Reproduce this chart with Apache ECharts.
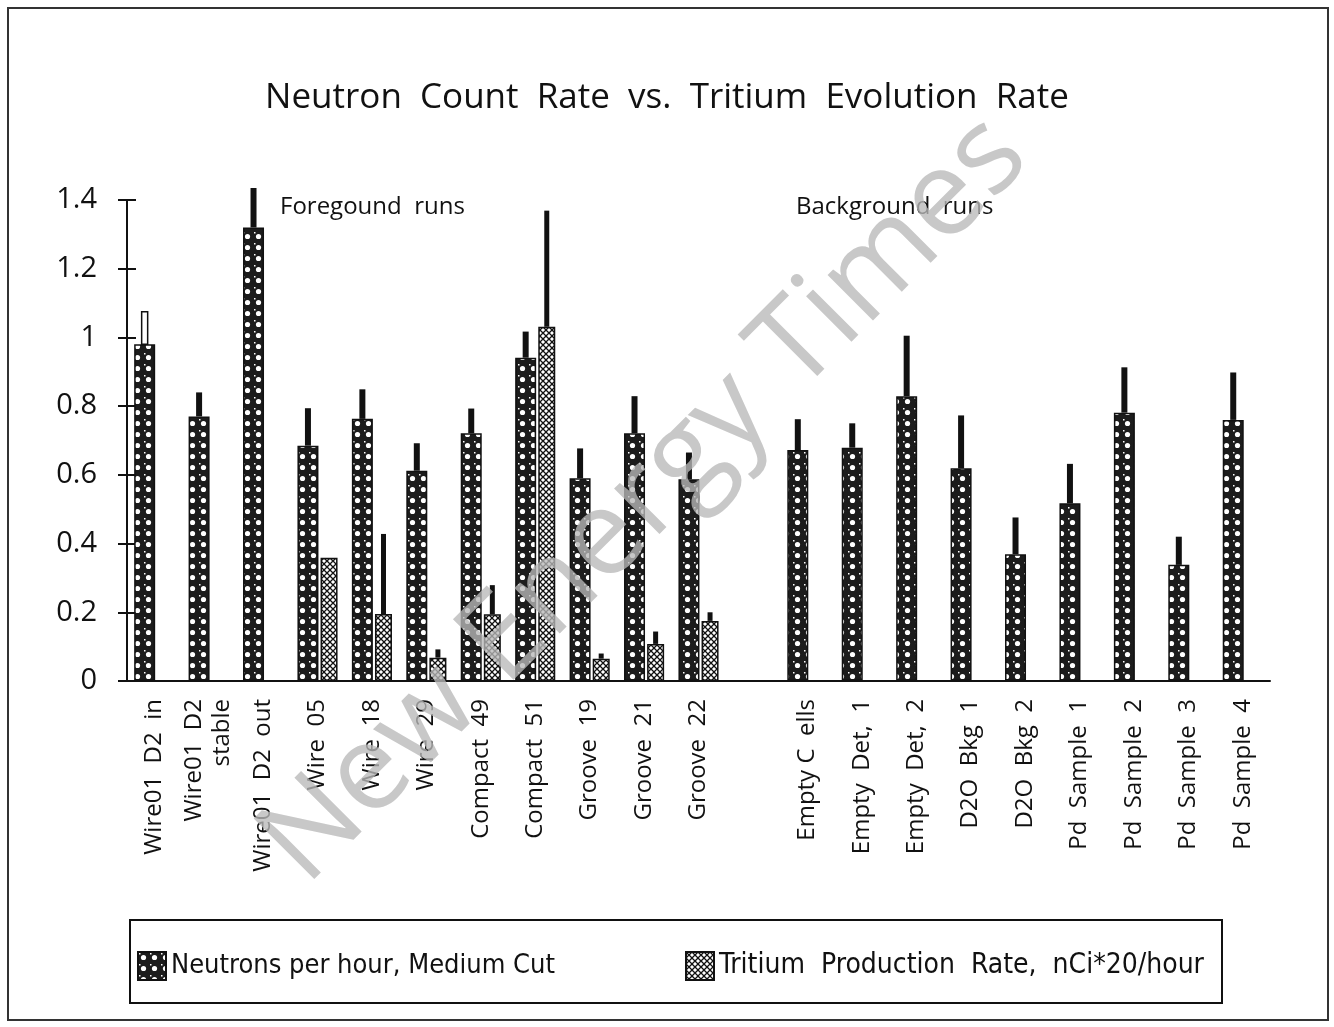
<!DOCTYPE html>
<html>
<head>
<meta charset="utf-8">
<script src="https://cdn.jsdelivr.net/npm/echarts@6/dist/echarts.min.js"></script>
<style>
    html, body { margin: 0; padding: 0; background: #fff; }
    #chart { width: 1334px; height: 1027px; }
</style>
</head>
<body>
<div id="chart"></div>
<script>
// run names, the empty one is the gap between foreground and background runs
var categories = [
    'Wire01  D2  in', 'Wire01  D2\nstable', 'Wire01  D2  out', 'Wire  05', 'Wire  18', 'Wire  29',
    'Compact  49', 'Compact  51', 'Groove  19', 'Groove  21', 'Groove  22', '',
    'Empty C  ells', 'Empty  Det,  1', 'Empty  Det,  2', 'D2O  Bkg  1', 'D2O  Bkg  2',
    'Pd  Sample  1', 'Pd  Sample  2', 'Pd  Sample  3', 'Pd  Sample  4'
];

var neutronValues = [0.98, 0.77, 1.32, 0.685, 0.763, 0.612, 0.721, 0.941, 0.59, 0.721, 0.587, null,
    0.672, 0.679, 0.829, 0.619, 0.369, 0.517, 0.781, 0.338, 0.76];
var neutronErrTop = [1.075, 0.84, 1.435, 0.794, 0.849, 0.692, 0.793, 1.017, 0.677, 0.829, 0.665, null,
    0.762, 0.75, 1.005, 0.773, 0.476, 0.632, 0.913, 0.42, 0.898];

var tritiumValues = [null, null, null, 0.359, 0.195, 0.068, 0.194, 1.031, 0.065, 0.108, 0.175, null,
    null, null, null, null, null, null, null, null, null];
var tritiumErrTop = [null, null, null, null, 0.428, 0.092, 0.279, 1.369, 0.08, 0.144, 0.2, null,
    null, null, null, null, null, null, null, null, null];

var yTicks = [0, 0.2, 0.4, 0.6, 0.8, 1, 1.2, 1.4];

var NEUTRON_NAME = 'Neutrons per hour, Medium Cut';
var TRITIUM_NAME = 'Tritium  Production  Rate,  nCi*20/hour';

var BAR_N = 21, BAR_T = 17, GAP = 0.1;
var FONT = '"Open Sans", "DejaVu Sans", sans-serif';
var LEGEND_FONT = '"Liberation Sans Narrow", "DejaVu Sans Condensed", "Liberation Sans", sans-serif';

// fill patterns
function neutronPattern() {
    var c = document.createElement('canvas');
    c.width = 11; c.height = 11;
    var ctx = c.getContext('2d');
    ctx.fillStyle = '#1c1c1c';
    ctx.fillRect(0, 0, 11, 11);
    ctx.fillStyle = '#fff';
    ctx.beginPath();
    ctx.arc(5.5, 5.5, 2.6, 0, Math.PI * 2);
    ctx.fill();
    ctx.fillRect(1, 1, 1.5, 1.5);
    return c;
}

function tritiumPattern() {
    var c = document.createElement('canvas');
    c.width = 6; c.height = 6;
    var ctx = c.getContext('2d');
    ctx.fillStyle = '#fff';
    ctx.fillRect(0, 0, 6, 6);
    ctx.strokeStyle = '#111';
    ctx.lineWidth = 1.3;
    ctx.beginPath();
    ctx.moveTo(0, 0); ctx.lineTo(6, 6);
    ctx.moveTo(6, 0); ctx.lineTo(0, 6);
    ctx.stroke();
    return c;
}

var nFill = { image: neutronPattern(), repeat: 'repeat' };
var tFill = { image: tritiumPattern(), repeat: 'repeat' };

function errData(vals, tops) {
    var out = [];
    for (var i = 0; i < vals.length; i++) {
        if (vals[i] != null && tops[i] != null) out.push([i, vals[i], tops[i]]);
    }
    return out;
}

function errRender(which) {
    return function (params, api) {
        var idx = api.value(0);
        var base = api.coord([idx, api.value(1)]);
        var top = api.coord([idx, api.value(2)]);
        var sum = BAR_N * (1 + GAP) + BAR_T;
        var cx = base[0] - sum / 2 + (which === 0 ? BAR_N / 2 : BAR_N * (1 + GAP) + BAR_T / 2);
        var w = which === 0 ? 6 : 5;
        var hollow = which === 0 && idx === 0;
        return {
            type: 'rect',
            shape: { x: cx - w / 2, y: top[1], width: w, height: base[1] - top[1] },
            style: hollow
                ? { fill: '#fff', stroke: '#111', lineWidth: 1.5 }
                : { fill: '#111' }
        };
    };
}

var chart = echarts.init(document.getElementById('chart'));
chart.setOption({
    backgroundColor: '#fff',
    animation: false,
    title: {
        text: 'Neutron  Count  Rate  vs.  Tritium  Evolution  Rate',
        left: 'center',
        top: 76,
        textStyle: { fontFamily: FONT, fontSize: 35, fontWeight: 'normal', color: '#111' }
    },
    grid: { left: 127, right: 64, top: 200, bottom: 346 },
    legend: [{
        data: [NEUTRON_NAME],
        left: 132, top: 946,
        itemWidth: 28, itemHeight: 28, itemGap: 6,
        icon: 'rect',
        textStyle: { fontFamily: LEGEND_FONT, fontSize: 27, color: '#111' }
    }, {
        data: [TRITIUM_NAME],
        left: 680, top: 946,
        itemWidth: 28, itemHeight: 28, itemGap: 6,
        icon: 'rect',
        textStyle: { fontFamily: LEGEND_FONT, fontSize: 28, color: '#111' }
    }],
    xAxis: [{
        type: 'category',
        data: categories,
        axisLine: { lineStyle: { color: '#111', width: 2 } },
        axisTick: { length: 7, lineStyle: { color: '#111', width: 2 } },
        axisLabel: { rotate: 90, margin: 18, fontFamily: FONT, fontSize: 24, color: '#111', interval: 0, lineHeight: 28 }
    }, {
        type: 'category',
        data: categories,
        position: 'bottom',
        axisLine: { show: false },
        axisTick: { inside: true, length: 7, lineStyle: { color: '#111', width: 2 } },
        axisLabel: { show: false }
    }],
    yAxis: [{
        type: 'value',
        min: yTicks[0], max: yTicks[yTicks.length - 1], interval: 0.2,
        axisLine: { show: true, lineStyle: { color: '#111', width: 2 } },
        axisTick: { show: true, length: 9, lineStyle: { color: '#111', width: 2 } },
        splitLine: { show: false },
        axisLabel: { margin: 30, fontFamily: FONT, fontSize: 29, color: '#111' }
    }, {
        type: 'value',
        position: 'left',
        min: yTicks[0], max: yTicks[yTicks.length - 1], interval: 0.2,
        axisLine: { show: false },
        axisTick: { show: true, inside: true, length: 9, lineStyle: { color: '#111', width: 2 } },
        splitLine: { show: false },
        axisLabel: { show: false }
    }],
    series: [{
        name: NEUTRON_NAME,
        type: 'bar',
        data: neutronValues,
        barWidth: BAR_N,
        barGap: '10%',
        itemStyle: { color: nFill, borderColor: '#111', borderWidth: 1.5 }
    }, {
        name: TRITIUM_NAME,
        type: 'bar',
        data: tritiumValues,
        barWidth: BAR_T,
        itemStyle: { color: tFill, borderColor: '#111', borderWidth: 1.5 }
    }, {
        type: 'custom',
        data: errData(neutronValues, neutronErrTop),
        renderItem: errRender(0),
        z: 3
    }, {
        type: 'custom',
        data: errData(tritiumValues, tritiumErrTop),
        renderItem: errRender(1),
        z: 3
    }],
    graphic: [{
        type: 'rect',
        shape: { x: 8, y: 8, width: 1320, height: 1012 },
        style: { fill: 'none', stroke: '#333', lineWidth: 2 }
    }, {
        type: 'rect',
        shape: { x: 130, y: 920, width: 1092, height: 83 },
        style: { fill: 'none', stroke: '#111', lineWidth: 2 }
    }, {
        type: 'text',
        x: 280, y: 207,
        style: { text: 'Foregound  runs', fontFamily: FONT, fontSize: 24, fill: '#111', textVerticalAlign: 'middle' }
    }, {
        type: 'text',
        x: 796, y: 207,
        style: { text: 'Background  runs', fontFamily: FONT, fontSize: 24, fill: '#111', textVerticalAlign: 'middle' }
    }, {
        // scanned watermark
        type: 'text',
        x: 645, y: 500,
        rotation: Math.PI / 4,
        z: 100,
        style: {
            text: 'New Energy Times',
            fontFamily: FONT, fontSize: 120,
            fill: 'rgba(185,185,185,0.78)',
            textAlign: 'center', textVerticalAlign: 'middle'
        }
    }]
});
</script>
</body>
</html>
